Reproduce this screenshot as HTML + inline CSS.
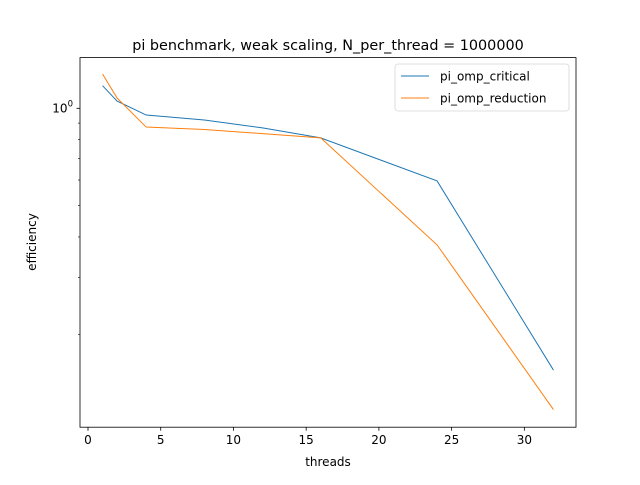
<!DOCTYPE html>
<html><head><meta charset="utf-8"><style>
body{margin:0;background:#fff}
svg text{font-family:"DejaVu Sans","Liberation Sans",sans-serif;fill:#000}
</style></head><body>
<svg id="chart" width="640" height="480" viewBox="0 0 640 480" xmlns="http://www.w3.org/2000/svg">
<rect width="640" height="480" fill="#fff"/>
<text x="328" y="50" font-size="14.4" text-anchor="middle">pi benchmark, weak scaling, N_per_thread = 1000000</text>
<g id="ticks"></g>
<g id="series"></g>
<rect x="80" y="57.6" width="496" height="369.6" fill="none" stroke="#000" stroke-width="0.8"/>
<text x="328" y="466" font-size="12" text-anchor="middle">threads</text>
<text x="36" y="242" font-size="12" text-anchor="middle" transform="rotate(-90 36 242)">efficiency</text>
<g>
<rect x="395" y="64" width="174" height="47" rx="3" fill="#fff" stroke="#ccc" stroke-width="0.8" opacity="0.8"/>
<g>
<line x1="401" y1="76" x2="429" y2="76" stroke="#1f77b4" stroke-width="1"/>
<text x="440" y="80.5" font-size="12">pi_omp_critical</text></g>
<g>
<line x1="401" y1="98" x2="429" y2="98" stroke="#ff7f0e" stroke-width="1"/>
<text x="440" y="102.5" font-size="12">pi_omp_reduction</text></g>
</g>
</svg>
<script>
const threads = [1, 2, 4, 8, 12, 16, 24, 32];
const criticalEff = [1.175, 1.053, 0.953, 0.92, 0.87, 0.81, 0.596, 0.155];
const reductionEff = [1.277, 1.076, 0.875, 0.86, 0.835, 0.81, 0.378, 0.117];
const xTicks = [0, 5, 10, 15, 20, 25, 30];
const yMinor = [0.2, 0.3, 0.4, 0.5, 0.6, 0.7, 0.8, 0.9];

const NS = "http://www.w3.org/2000/svg";
const xs = v => 88 + v * 14.545;
const ys = v => 108.3 - 323.3 * Math.log10(v);
const tg = document.getElementById('ticks');
function mk(tag, attrs, parent){const e=document.createElementNS(NS,tag);for(const k in attrs)e.setAttribute(k,attrs[k]);parent.appendChild(e);return e;}
xTicks.forEach(t=>{
  const g=mk('g',{},tg);
  
  
  mk('line',{x1:xs(t),x2:xs(t),y1:427.2,y2:430.7,stroke:'#000','stroke-width':0.8},g);
  const tx=mk('text',{x:xs(t),y:444,'font-size':12,'text-anchor':'middle'},g);tx.textContent=t;
});
{
  const g=mk('g',{},tg);
  
  
  mk('line',{x1:76.5,x2:80,y1:ys(1),y2:ys(1),stroke:'#000','stroke-width':0.8},g);
  const tx=mk('text',{x:73,y:ys(1)+4,'font-size':12,'text-anchor':'end'},g);
  tx.innerHTML='10<tspan dy="-6" font-size="8.5">0</tspan>';
}
yMinor.forEach(v=>{
  const l=mk('line',{x1:78,x2:80,y1:ys(v),y2:ys(v),stroke:'#000','stroke-width':0.6},tg);
  
  
});
const sg=document.getElementById('series');
[[criticalEff,'#1f77b4','line-critical'],[reductionEff,'#ff7f0e','line-reduction']].forEach(([arr,c,n])=>{
  const p=mk('polyline',{points:threads.map((t,i)=>xs(t)+','+ys(arr[i])).join(' '),fill:'none',stroke:c,'stroke-width':1},sg);
  
  
});
</script>
</body></html>
